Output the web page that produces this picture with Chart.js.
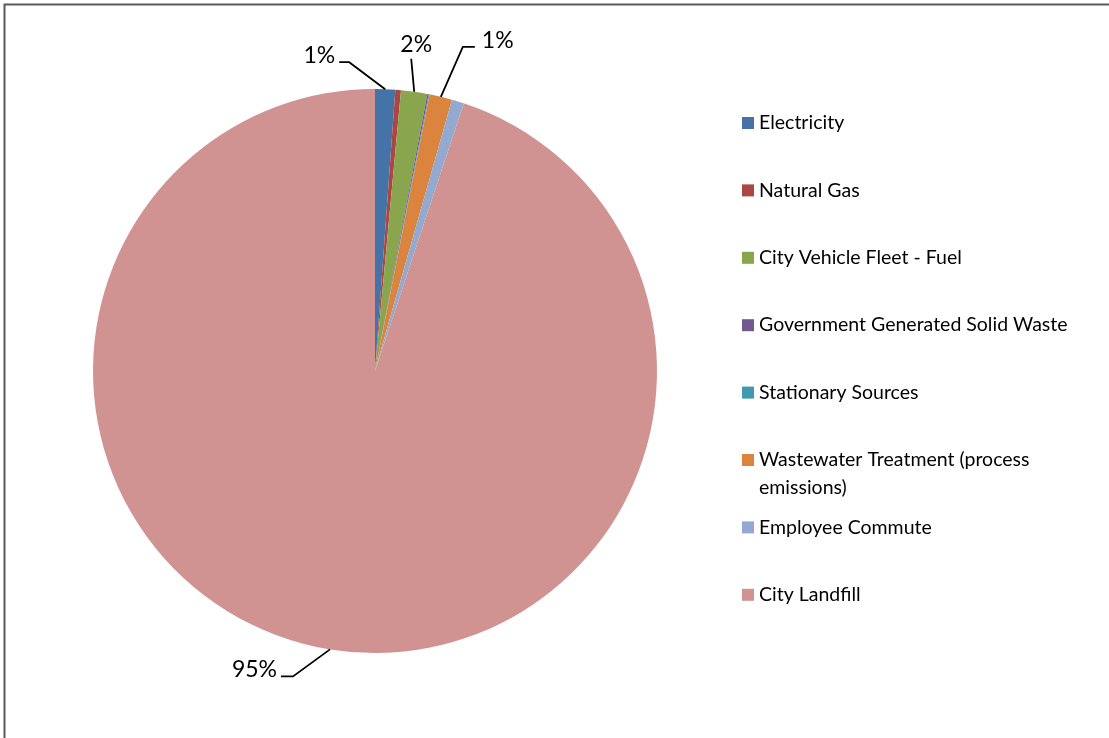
<!DOCTYPE html>
<html>
<head>
<meta charset="utf-8">
<script src="https://cdn.jsdelivr.net/npm/chart.js@4.4.1/dist/chart.umd.min.js"></script>
<style>
  html, body { margin: 0; padding: 0; background: #fff; }
  #wrap { position: relative; width: 1109px; height: 738px; }
</style>
</head>
<body>
<div id="wrap"><canvas id="emissionsPie" width="1109" height="738"></canvas></div>
<script>
// emission sources and their share of the total (%)
const sources = [
    'Electricity',
    'Natural Gas',
    'City Vehicle Fleet - Fuel',
    'Government Generated Solid Waste',
    'Stationary Sources',
    'Wastewater Treatment (process emissions)',
    'Employee Commute',
    'City Landfill'
];
const shares = [1.15, 0.32, 1.5, 0.08, 0.05, 1.3, 0.7, 94.9];
const sliceColors = ['#4572A7', '#AA4643', '#89A54E', '#71588F', '#4198AF', '#DB843D', '#93A9CF', '#D19392'];

// which slices get a percentage callout
const labelledSlices = [0, 2, 5, 7];

// callout geometry: bend relative to slice edge, then a short horizontal run
const calloutStyle = {
    0: { bend: [-36, -27], run: -10, align: 'right' },
    2: { bend: [-3, -33], run: 0, align: 'center' },
    5: { bend: [22, -50], run: 12, align: 'left' },
    7: { bend: [-37, 27], run: -12, align: 'right' }
};

const frame = {
    id: 'frame',
    beforeDraw(chart) {
        const c = chart.ctx;
        c.save();
        c.fillStyle = '#fff';
        c.fillRect(0, 0, chart.width, chart.height);
        c.strokeStyle = '#595959';
        c.lineWidth = 2;
        c.beginPath();
        c.moveTo(4.5, chart.height + 2);
        c.lineTo(4.5, 4.5);
        c.lineTo(chart.width + 2, 4.5);
        c.stroke();
        c.restore();
    }
};

const callouts = {
    id: 'callouts',
    afterDatasetsDraw(chart) {
        const c = chart.ctx;
        const meta = chart.getDatasetMeta(0);
        const data = chart.data.datasets[0].data;
        const total = data.reduce((a, b) => a + b, 0);
        c.save();
        c.strokeStyle = '#000';
        c.lineWidth = 1.8;
        c.fillStyle = '#000';
        c.font = '23px Lato';
        labelledSlices.forEach(i => {
            const arc = meta.data[i];
            const st = calloutStyle[i];
            const mid = (arc.startAngle + arc.endAngle) / 2;
            const ax = arc.x + Math.cos(mid) * arc.outerRadius;
            const ay = arc.y + Math.sin(mid) * arc.outerRadius;
            const bx = ax + st.bend[0];
            const by = ay + st.bend[1];
            const ex = bx + st.run;
            c.beginPath();
            c.moveTo(ax, ay);
            c.lineTo(bx, by);
            c.lineTo(ex, by);
            c.stroke();
            const txt = Math.round(data[i] / total * 100) + '%';
            c.textAlign = st.align;
            if (st.align === 'center') {
                c.textBaseline = 'bottom';
                c.fillText(txt, ex + 5, by - 3);
            } else {
                c.textBaseline = 'alphabetic';
                c.fillText(txt, ex + (st.align === 'left' ? 7 : -4), by + 1);
            }
        });
        c.restore();
    }
};

const sideLegend = {
    id: 'sideLegend',
    afterDraw(chart) {
        const c = chart.ctx;
        const labels = chart.data.labels;
        const colors = chart.data.datasets[0].backgroundColor;
        const x0 = 742, y0 = 123, step = 67.4, maxW = 330;
        c.save();
        c.font = '19.5px Lato';
        c.textBaseline = 'middle';
        c.textAlign = 'left';
        labels.forEach((lab, i) => {
            const y = y0 + i * step;
            c.fillStyle = colors[i];
            c.fillRect(x0, y - 6, 12, 12);
            c.fillStyle = '#000';
            // wrap long names onto a second line
            const words = lab.split(' ');
            let line = '', lines = [];
            words.forEach(w => {
                const test = line ? line + ' ' + w : w;
                if (c.measureText(test).width > maxW && line) {
                    lines.push(line);
                    line = w;
                } else {
                    line = test;
                }
            });
            lines.push(line);
            lines.forEach((l, k) => c.fillText(l, x0 + 17, y + k * 28));
        });
        c.restore();
    }
};

window.onload = () => {
    const ctx = document.getElementById('emissionsPie').getContext('2d');
    new Chart(ctx, {
        type: 'pie',
        data: {
            labels: sources,
            datasets: [{
                data: shares,
                backgroundColor: sliceColors,
                borderWidth: 0
            }]
        },
        options: {
            responsive: false,
            animation: false,
            layout: {
                padding: { left: 93, right: 452, top: 89, bottom: 85 }
            },
            plugins: {
                legend: { display: false },
                tooltip: { enabled: false }
            }
        },
        plugins: [frame, callouts, sideLegend]
    });
};
</script>
</body>
</html>
